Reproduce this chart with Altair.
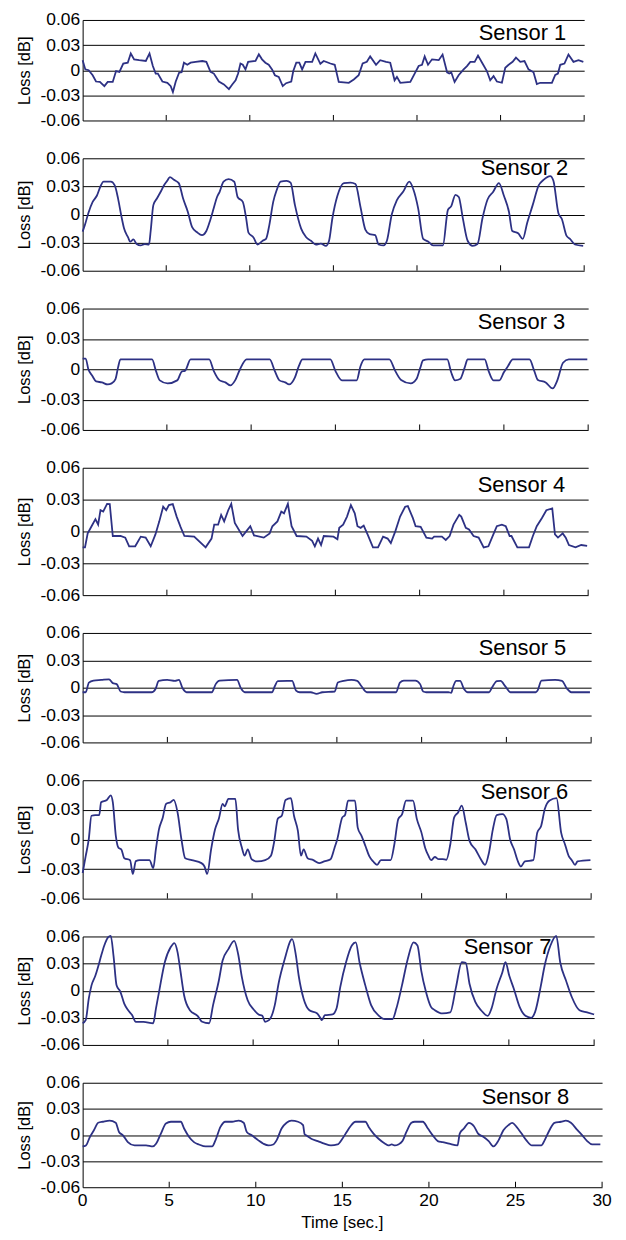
import altair as alt
import pandas as pd

sensor_names = ["Sensor 1", "Sensor 2", "Sensor 3", "Sensor 4",
                "Sensor 5", "Sensor 6", "Sensor 7", "Sensor 8"]

# (time [s], loss [dB])
sensor1 = [(0, 0.012), (0.16, 0.001), (0.36, 0.0), (0.6, -0.006), (0.8, -0.0135), (1.03, -0.014), (1.3, -0.019), (1.5, -0.014), (1.8, -0.014), (2.0, -0.001),
           (2.2, -0.002), (2.43, 0.008), (2.7, 0.009), (2.88, 0.020), (3.08, 0.013), (3.38, 0.012), (3.78, 0.011), (4.0, 0.020), (4.2, 0.005), (4.37, -0.004),
           (4.5, -0.004), (4.77, -0.0135), (5.07, -0.015), (5.27, -0.019), (5.4, -0.026), (5.57, -0.0135), (5.77, -0.003), (5.92, -0.0025), (6.06, 0.009), (6.26, 0.0065),
           (6.46, 0.009), (6.76, 0.010), (7.16, 0.011), (7.4, 0.010), (7.65, -0.002), (7.85, -0.004), (8.15, -0.0135), (8.45, -0.017), (8.75, -0.0225), (8.95, -0.017),
           (9.15, -0.012), (9.3, -0.004), (9.44, 0.008), (9.58, 0.0065), (9.74, 0.001), (9.9, 0.010), (10.34, 0.011), (10.54, 0.019), (10.73, 0.013), (10.93, 0.009),
           (11.13, 0.0065), (11.33, 0.001), (11.5, -0.006), (11.73, -0.008), (11.97, -0.019), (12.17, -0.0155), (12.48, -0.0135), (12.6, -0.001), (12.78, 0.009), (12.96, 0.009),
           (13.13, 0.001), (13.33, 0.010), (13.73, 0.010), (13.92, 0.020), (14.22, 0.0077), (14.42, 0.011), (14.82, 0.008), (15.08, 0.0065), (15.32, -0.014), (15.92, -0.015),
           (16.22, -0.011), (16.51, -0.006), (16.75, 0.008), (17.0, 0.010), (17.2, 0.0165), (17.55, 0.0065), (17.8, 0.012), (18.15, 0.010), (18.4, 0.009), (18.66, -0.012),
           (18.8, -0.008), (19.0, -0.015), (19.6, -0.014), (19.9, -0.0025), (20.1, 0.005), (20.3, 0.0065), (20.46, 0.0165), (20.66, 0.0065), (20.9, 0.013), (21.3, 0.012),
           (21.53, 0.0187), (21.8, -0.0025), (21.93, -0.004), (22.05, -0.0025), (22.25, -0.014), (22.49, -0.006), (22.79, 0.001), (22.99, 0.005), (23.19, 0.010), (23.45, 0.010),
           (23.65, 0.0175), (23.92, 0.008), (24.18, -0.001), (24.38, -0.012), (24.58, -0.007), (24.78, -0.0135), (25.08, -0.015), (25.28, 0.003), (25.48, 0.0065), (25.72, 0.010),
           (25.92, 0.015), (26.18, 0.010), (26.43, 0.011), (26.67, 0.001), (26.97, -0.0025), (27.17, -0.0165), (27.37, -0.015), (28.07, -0.015), (28.27, -0.0055), (28.43, -0.004),
           (28.57, 0.0065), (28.82, 0.008), (29.06, 0.0187), (29.36, 0.010), (29.66, 0.012), (29.95, 0.010)]

sensor2 = [(0, -0.0183), (0.14, -0.011), (0.34, 0.0014), (0.6, 0.0135), (0.85, 0.020), (1.09, 0.031), (1.25, 0.035), (1.69, 0.035), (1.92, 0.031), (2.12, 0.017),
           (2.32, -0.002), (2.48, -0.015), (2.72, -0.0245), (2.84, -0.029), (3.04, -0.0266), (3.23, -0.0315), (3.47, -0.033), (3.71, -0.0315), (3.97, -0.032), (4.07, -0.0176),
           (4.23, 0.010), (4.46, 0.0176), (4.66, 0.024), (4.86, 0.031), (5.06, 0.036), (5.22, 0.040), (5.46, 0.037), (5.75, 0.0335), (6.01, 0.017), (6.29, 0.003),
           (6.55, -0.0135), (6.85, -0.019), (7.14, -0.022), (7.4, -0.0176), (7.64, -0.0055), (7.84, 0.0066), (8.04, 0.0187), (8.19, 0.024), (8.43, 0.035), (8.73, 0.0377),
           (9.07, 0.035), (9.27, 0.0187), (9.58, 0.0135), (9.78, -0.0038), (9.92, -0.0194), (10.22, -0.0245), (10.46, -0.032), (10.77, -0.028), (10.97, -0.026), (11.17, -0.011),
           (11.4, 0.0135), (11.6, 0.0256), (11.84, 0.035), (12.2, 0.036), (12.44, 0.034), (12.7, 0.010), (13.07, -0.015), (13.36, -0.024), (13.66, -0.028), (13.95, -0.032),
           (14.25, -0.031), (14.55, -0.0335), (14.74, -0.028), (14.94, -0.004), (15.24, 0.020), (15.63, 0.0335), (16.03, 0.034), (16.32, 0.0325), (16.62, 0.008), (16.91, -0.016),
           (17.17, -0.021), (17.5, -0.022), (17.7, -0.032), (18.0, -0.033), (18.2, -0.028), (18.49, 0.0), (18.79, 0.015), (19.18, 0.0245), (19.54, 0.035), (19.78, 0.027),
           (20.07, 0.0066), (20.37, -0.026), (20.66, -0.0287), (20.96, -0.033), (21.55, -0.033), (21.85, 0.005), (22.05, 0.009), (22.3, 0.021), (22.5, 0.0187), (22.74, -0.0038),
           (23.03, -0.028), (23.33, -0.0335), (23.62, -0.0315), (23.92, -0.0038), (24.22, 0.016), (24.55, 0.024), (24.9, 0.0335), (25.2, 0.020), (25.5, 0.003), (25.7, -0.0176),
           (26.05, -0.020), (26.33, -0.026), (26.59, -0.009), (26.92, 0.010), (27.28, 0.031), (27.57, 0.037), (27.97, 0.041), (28.16, 0.036), (28.46, 0.0014), (28.66, -0.0045),
           (28.95, -0.0228), (29.15, -0.026), (29.45, -0.032), (29.94, -0.0335)]

sensor3 = [(0, 0.0106), (0.18, 0.0106), (0.34, 0.0), (0.57, -0.0064), (0.8, -0.012), (1.14, -0.013), (1.49, -0.015), (1.72, -0.014), (1.95, -0.0097), (2.1, 0.0016),
           (2.24, 0.0097), (4.12, 0.0097), (4.35, -0.0016), (4.58, -0.011), (5.04, -0.014), (5.61, -0.011), (5.9, -0.002), (6.07, -0.0016), (6.41, 0.0097), (7.51, 0.0097),
           (7.78, -0.0016), (8.13, -0.011), (8.47, -0.013), (8.77, -0.016), (9.05, -0.011), (9.34, 0.0), (9.73, 0.0097), (11.1, 0.0097), (11.4, -0.0016), (11.68, -0.011),
           (12.02, -0.013), (12.25, -0.015), (12.6, -0.008), (12.83, 0.003), (13.05, 0.0097), (14.7, 0.0097), (15.0, -0.0016), (15.39, -0.011), (16.26, -0.011), (16.49, 0.003),
           (16.72, 0.0097), (18.2, 0.0097), (18.55, -0.0016), (18.9, -0.0106), (19.47, -0.014), (19.81, -0.0097), (20.04, 0.0016), (20.2, 0.0087), (20.5, 0.0097), (21.64, 0.0097),
           (21.87, -0.003), (22.1, -0.011), (22.4, -0.0097), (22.67, 0.0016), (22.85, 0.0097), (23.86, 0.0097), (24.09, -0.0016), (24.38, -0.011), (24.73, -0.011), (25.0, -0.003),
           (25.24, 0.003), (25.53, 0.0097), (26.52, 0.0097), (26.8, -0.0016), (27.02, -0.0106), (27.48, -0.013), (27.89, -0.019), (28.17, -0.011), (28.51, 0.0064), (28.85, 0.0097),
           (29.95, 0.0097)]

sensor4 = [(0, -0.015), (0.14, -0.015), (0.3, -0.0018), (0.53, 0.0049), (0.76, 0.0116), (0.92, 0.0064), (1.06, 0.020), (1.22, 0.0187), (1.45, 0.026), (1.61, 0.0257),
           (1.79, -0.0043), (2.25, -0.0043), (2.53, -0.0058), (2.76, -0.014), (3.12, -0.014), (3.45, -0.0049), (3.74, -0.0058), (4.04, -0.014), (4.32, -0.0028), (4.55, 0.0095),
           (4.78, 0.0233), (4.96, 0.020), (5.12, 0.0248), (5.35, 0.0257), (5.58, 0.014), (5.81, 0.0043), (6.04, -0.0043), (6.62, -0.0049), (7.3, -0.015), (7.65, -0.0067),
           (7.81, 0.0064), (8.04, 0.0064), (8.22, 0.0156), (8.4, 0.0095), (8.64, 0.020), (8.82, 0.026), (9.03, 0.008), (9.49, -0.0043), (9.72, 0.0003), (9.95, 0.0049),
           (10.17, -0.0037), (10.75, -0.0058), (11.1, -0.0018), (11.26, 0.0049), (11.56, 0.0095), (11.79, 0.0187), (11.95, 0.0171), (12.18, 0.026), (12.4, 0.0049), (12.7, -0.0043),
           (13.28, -0.0049), (13.62, -0.0089), (13.78, -0.014), (13.97, -0.0067), (14.15, -0.0128), (14.31, -0.0043), (14.89, -0.0049), (15.12, -0.0073), (15.23, 0.0034), (15.46, 0.0064),
           (15.69, 0.014), (15.92, 0.0248), (16.15, 0.0171), (16.31, 0.0049), (16.5, 0.0034), (16.68, 0.0055), (16.91, -0.0028), (17.23, -0.015), (17.53, -0.015), (17.83, -0.0049),
           (18.1, -0.0067), (18.29, -0.011), (18.56, 0.0003), (18.84, 0.014), (19.14, 0.0233), (19.3, 0.0239), (19.6, 0.0125), (19.76, 0.0049), (20.06, 0.0043), (20.4, -0.0058),
           (20.74, -0.0067), (20.86, -0.0049), (21.32, -0.0049), (21.55, -0.008), (21.78, -0.0043), (22.01, 0.0064), (22.35, 0.0156), (22.47, 0.014), (22.74, 0.0034), (22.93, 0.0018),
           (23.2, -0.0043), (23.5, -0.0058), (23.8, -0.015), (24.08, -0.014), (24.35, -0.0037), (24.58, 0.0049), (24.88, 0.0064), (25.11, 0.0049), (25.34, -0.0043), (25.45, -0.0043),
           (25.8, -0.015), (26.49, -0.015), (26.72, -0.0043), (26.95, 0.0049), (27.25, 0.0125), (27.52, 0.020), (27.87, 0.0217), (28.03, -0.0028), (28.21, -0.0058), (28.49, -0.0018),
           (28.67, -0.0058), (28.86, -0.0128), (29.25, -0.015), (29.59, -0.0128), (29.94, -0.0135)]

sensor5 = [(0, -0.005), (0.18, -0.005), (0.37, 0.0056), (0.64, 0.0078), (1.1, 0.0085), (1.56, 0.0092), (1.78, 0.005), (2.01, 0.0039), (2.24, -0.0042), (2.47, -0.005),
           (4.07, -0.005), (4.3, -0.0014), (4.49, 0.0074), (4.99, 0.0085), (5.45, 0.0074), (5.68, 0.0085), (5.9, -0.0007), (6.13, -0.005), (7.62, -0.005), (7.85, 0.0039),
           (8.08, 0.0078), (9.11, 0.0085), (9.34, -0.0007), (9.57, -0.005), (11.17, -0.005), (11.35, 0.0021), (11.51, 0.0071), (12.08, 0.0074), (12.36, 0.0074), (12.59, -0.0032),
           (12.81, -0.005), (13.46, -0.005), (13.8, -0.0067), (14.14, -0.005), (14.87, -0.0042), (15.06, 0.0056), (15.4, 0.0074), (15.86, 0.0085), (16.2, 0.0074), (16.43, 0.0021),
           (16.77, -0.005), (18.49, -0.005), (18.72, 0.0056), (18.95, 0.0078), (19.63, 0.0078), (19.91, 0.0039), (20.09, -0.0042), (20.27, -0.005), (21.58, -0.005), (21.74, -0.0056),
           (21.88, 0.0021), (22.04, 0.0074), (22.27, 0.0074), (22.5, -0.0014), (22.72, -0.005), (23.98, -0.005), (24.16, 0.0004), (24.44, 0.0071), (24.66, 0.0074), (24.94, 0.0014),
           (25.24, -0.005), (26.73, -0.005), (26.84, -0.0032), (27.07, 0.0078), (27.87, 0.0085), (28.28, 0.0074), (28.56, -0.0007), (28.83, -0.005), (29.93, -0.005)]

sensor6 = [(0, -0.034), (0.18, -0.017), (0.36, 0.0), (0.52, 0.024), (0.75, 0.0247), (0.98, 0.0247), (1.09, 0.0377), (1.43, 0.040), (1.66, 0.0446), (1.78, 0.0377),
           (1.96, 0.0034), (2.12, -0.0086), (2.28, -0.010), (2.46, -0.019), (2.8, -0.021), (2.96, -0.035), (3.14, -0.022), (3.37, -0.021), (3.94, -0.021), (4.17, -0.029),
           (4.32, -0.010), (4.5, 0.010), (4.73, 0.0223), (4.92, 0.036), (5.19, 0.0377), (5.37, 0.040), (5.6, 0.0274), (5.83, 0.0), (6.05, -0.019), (6.44, -0.021),
           (7.01, -0.024), (7.19, -0.0274), (7.35, -0.035), (7.58, -0.010), (7.81, 0.010), (8.04, 0.0213), (8.26, 0.036), (8.38, 0.0336), (8.6, 0.041), (9.01, 0.041),
           (9.17, 0.010), (9.4, -0.0086), (9.56, -0.0165), (9.74, -0.010), (9.97, -0.020), (10.31, -0.0223), (10.77, -0.021), (11.11, -0.0165), (11.29, -0.0034), (11.52, 0.0213),
           (11.75, 0.024), (11.97, 0.040), (12.29, 0.0418), (12.47, 0.024), (12.7, 0.0086), (12.88, -0.0165), (13.04, -0.010), (13.27, -0.019), (13.61, -0.021), (13.95, -0.024),
           (14.25, -0.0223), (14.63, -0.020), (14.86, -0.0086), (15.02, 0.0), (15.32, 0.0223), (15.48, 0.0247), (15.66, 0.0394), (16.07, 0.0394), (16.23, 0.012), (16.46, 0.0034),
           (16.69, -0.0069), (16.91, -0.017), (17.14, -0.0223), (17.37, -0.0257), (17.6, -0.021), (18.17, -0.021), (18.39, -0.0051), (18.62, 0.0206), (18.85, 0.0257), (19.08, 0.0394),
           (19.49, 0.0394), (19.72, 0.0206), (19.99, 0.0069), (20.21, -0.0086), (20.4, -0.0165), (20.56, -0.021), (20.78, -0.0178), (21.01, -0.020), (21.24, -0.020), (21.46, -0.0206),
           (21.69, -0.0051), (21.92, 0.0223), (22.15, 0.0274), (22.37, 0.0343), (22.6, 0.0171), (22.83, -0.0017), (23.17, -0.010), (23.51, -0.0206), (23.74, -0.0257), (23.97, -0.0137),
           (24.2, 0.010), (24.43, 0.0247), (24.77, 0.0257), (25.0, 0.0206), (25.22, 0.0), (25.45, -0.010), (25.68, -0.0223), (25.86, -0.0274), (26.09, -0.0223), (26.59, -0.021),
           (26.82, 0.0069), (27.05, 0.0137), (27.27, 0.031), (27.55, 0.0394), (27.96, 0.0418), (28.23, 0.0069), (28.46, -0.0051), (28.68, -0.017), (28.86, -0.021), (29.05, -0.0257),
           (29.2, -0.0223), (29.96, -0.021)]

sensor7 = [(0, -0.036), (0.18, -0.0326), (0.36, -0.0088), (0.52, 0.0059), (0.75, 0.0168), (0.9, 0.026), (1.09, 0.0388), (1.27, 0.050), (1.49, 0.059), (1.65, 0.0607),
           (1.81, 0.0388), (1.99, 0.0059), (2.22, -0.0015), (2.44, -0.0143), (2.67, -0.0216), (2.9, -0.027), (3.12, -0.0344), (3.57, -0.0344), (4.14, -0.036), (4.3, -0.0198),
           (4.48, -0.0015), (4.82, 0.0315), (5.16, 0.048), (5.38, 0.0527), (5.57, 0.0424), (5.72, 0.024), (5.95, -0.005), (6.29, -0.0216), (6.74, -0.0278), (7.01, -0.0344),
           (7.42, -0.036), (7.65, -0.016), (7.99, 0.0113), (8.21, 0.0333), (8.55, 0.046), (8.89, 0.0552), (9.12, 0.0406), (9.34, 0.015), (9.68, -0.0106), (10.02, -0.0205),
           (10.32, -0.0263), (10.54, -0.0278), (10.7, -0.0344), (10.93, -0.0326), (11.27, -0.016), (11.49, 0.0077), (11.83, 0.0333), (12.29, 0.057), (12.51, 0.0388), (12.67, 0.0168),
           (12.96, -0.0088), (13.3, -0.0216), (13.76, -0.0252), (13.94, -0.030), (14.03, -0.0326), (14.21, -0.027), (14.66, -0.0263), (14.89, -0.0198), (15.11, 0.004), (15.45, 0.0315),
           (15.79, 0.050), (16.02, 0.0534), (16.24, 0.0315), (16.58, 0.0059), (16.92, -0.016), (17.38, -0.0278), (17.72, -0.0315), (18.17, -0.0315), (18.4, -0.0198), (18.73, 0.0059),
           (19.07, 0.0351), (19.41, 0.0534), (19.64, 0.050), (19.86, 0.0223), (20.14, -0.0015), (20.43, -0.0179), (20.66, -0.0216), (21.11, -0.0252), (21.56, -0.0241), (21.9, 0.004),
           (22.24, 0.0315), (22.47, 0.0307), (22.69, 0.0077), (23.03, -0.0124), (23.37, -0.0216), (23.76, -0.0278), (23.98, -0.0198), (24.28, 0.0022), (24.62, 0.0205), (24.8, 0.0315),
           (25.02, 0.0168), (25.29, 0.0022), (25.63, -0.0179), (25.97, -0.0278), (26.31, -0.030), (26.54, -0.0234), (26.88, 0.0059), (27.1, 0.0278), (27.44, 0.050), (27.78, 0.0607),
           (28.01, 0.0315), (28.35, 0.0113), (28.69, -0.007), (29.14, -0.0216), (29.59, -0.0241), (30.0, -0.0263)]

sensor8 = [(0, -0.0132), (0.19, -0.012), (0.42, -0.0023), (0.65, 0.0055), (0.9, 0.014), (1.18, 0.0152), (1.56, 0.0164), (1.91, 0.014), (2.1, 0.0035), (2.33, -0.0004),
           (2.61, -0.0082), (3.0, -0.012), (3.66, -0.012), (4.05, -0.0132), (4.24, -0.010), (4.52, 0.0016), (4.81, 0.0132), (5.1, 0.0152), (5.67, 0.0152), (5.86, 0.0074),
           (6.15, -0.0023), (6.43, -0.0082), (6.72, -0.0109), (7.1, -0.0132), (7.48, -0.0132), (7.67, -0.0062), (7.96, 0.0093), (8.24, 0.0152), (8.63, 0.0152), (9.01, 0.0164),
           (9.3, 0.014), (9.48, 0.0035), (9.77, -0.0004), (10.15, -0.0062), (10.44, -0.010), (10.73, -0.012), (11.01, -0.0109), (11.2, -0.0062), (11.49, 0.0074), (11.78, 0.014),
           (12.06, 0.0164), (12.44, 0.0152), (12.73, 0.0113), (12.82, 0.0008), (12.91, -0.0004), (13.2, -0.0043), (13.58, -0.007), (13.96, -0.010), (14.34, -0.012), (14.72, -0.0109),
           (15.0, -0.0043), (15.25, 0.0035), (15.47, 0.0101), (15.76, 0.0152), (16.33, 0.0152), (16.52, 0.0093), (16.8, 0.0016), (17.09, -0.0043), (17.47, -0.010), (17.66, -0.012),
           (17.85, -0.0109), (18.04, -0.012), (18.23, -0.0109), (18.47, -0.007), (18.7, 0.0035), (18.99, 0.014), (19.18, 0.0152), (19.65, 0.0152), (19.94, 0.0074), (20.22, -0.0004),
           (20.51, -0.007), (20.79, -0.0082), (21.17, -0.010), (21.65, -0.012), (21.78, 0.0016), (22.02, 0.0074), (22.31, 0.014), (22.6, 0.0101), (22.84, 0.0016), (23.16, -0.0023),
           (23.45, -0.007), (23.73, -0.0132), (24.02, -0.0062), (24.3, 0.0055), (24.59, 0.0113), (24.81, 0.014), (25.06, 0.0093), (25.35, 0.0016), (25.63, -0.0062), (25.95, -0.012),
           (26.49, -0.012), (26.68, -0.0062), (26.96, 0.0055), (27.25, 0.014), (27.63, 0.0152), (27.91, 0.0164), (28.2, 0.014), (28.58, 0.0055), (28.86, -0.0004), (29.14, -0.007),
           (29.43, -0.0109), (29.9, -0.0109)]

all_series = [sensor1, sensor2, sensor3, sensor4, sensor5, sensor6, sensor7, sensor8]
smooth = [False, True, True, False, True, True, True, True]

x_tick_values = [0, 5, 10, 15, 20, 25, 30]
x_tick_labels = ["0", "5", "10", "15", "20", "25", "30"]
inner_tick_values = [5, 10, 15, 20, 25, 30]
y_tick_values = [-0.06, -0.03, 0, 0.03, 0.06]
x_title = "Time [sec.]"
y_title = "Loss [dB]"

panel_widths = [504, 504, 508, 508, 511, 511, 514, 522]
panel_heights = [101, 113, 122, 128, 110, 119, 109, 105]
label_right = [486, 488, 485, 485, 486, 488, 471, 489]
label_mid = [13, 10, 14, 17, 15, 12, 11, 14]

FONT = "Liberation Sans"
LINE = "#2D3184"

xscale = alt.Scale(domain=[0, 30], nice=False, zero=False)
yscale = alt.Scale(domain=[-0.06, 0.06], nice=False, zero=False)

LABEL_EXPR = "datum.value == 0 ? '0' : (datum.value < 0 ? '-' : '') + format(abs(datum.value), '.2f')"


def make_panel(i, last):
    w = panel_widths[i]
    h = panel_heights[i]
    df = pd.DataFrame(all_series[i], columns=["t", "v"])
    xaxis = alt.Axis(values=x_tick_values, ticks=False, grid=False, labels=False,
                     title=None, domainColor="#000", domainWidth=1)
    yaxis = alt.Axis(values=y_tick_values, ticks=False, tickSize=0, grid=True,
                     gridColor="#000", gridWidth=1, gridOpacity=1,
                     domainColor="#000", domainWidth=1, labelExpr=LABEL_EXPR,
                     labelFont=FONT, labelFontSize=17.5, labelColor="#000", labelPadding=3,
                     title=y_title, titleFont=FONT, titleFontSize=16.5,
                     titleFontWeight="normal", titleColor="#000", titlePadding=8)
    line = alt.Chart(df).mark_line(
        color=LINE, strokeWidth=1.8,
        interpolate="monotone" if smooth[i] else "linear").encode(
        x=alt.X("t:Q", scale=xscale, axis=xaxis),
        y=alt.Y("v:Q", scale=yscale, axis=yaxis),
    )
    ticks = alt.Chart(pd.DataFrame({"t": inner_tick_values})).mark_rule(
        color="#000", strokeWidth=1).encode(
        x=alt.X("t:Q", scale=xscale, axis=None),
        y=alt.value(h),
        y2=alt.value(h - 5.5),
    )
    label = alt.Chart(pd.DataFrame({"name": [sensor_names[i]]})).mark_text(
        align="right", baseline="middle", font=FONT, fontSize=22, color="#000").encode(
        x=alt.value(label_right[i]),
        y=alt.value(label_mid[i]),
        text="name:N",
    )
    layers = [line, ticks, label]
    if last:
        tick_text = alt.Chart(pd.DataFrame({"t": x_tick_values, "lab": x_tick_labels})).mark_text(
            align="center", baseline="middle", font=FONT, fontSize=17.5, color="#000").encode(
            x=alt.X("t:Q", scale=xscale, axis=None),
            y=alt.value(h + 14),
            text="lab:N",
        )
        title_text = alt.Chart(pd.DataFrame({"name": [x_title]})).mark_text(
            align="center", baseline="middle", font=FONT, fontSize=17, color="#000").encode(
            x=alt.value(w / 2),
            y=alt.value(h + 36),
            text="name:N",
        )
        layers += [tick_text, title_text]
    return alt.layer(*layers).properties(width=w, height=h)


panels = [make_panel(i, i == 7) for i in range(8)]

chart = alt.vconcat(*panels, spacing=20).properties(
    padding={"left": 8, "top": 0, "right": 6, "bottom": 4}
).configure_view(strokeWidth=0)

chart.save("out.html", embed_options={"renderer": "svg", "actions": False})
